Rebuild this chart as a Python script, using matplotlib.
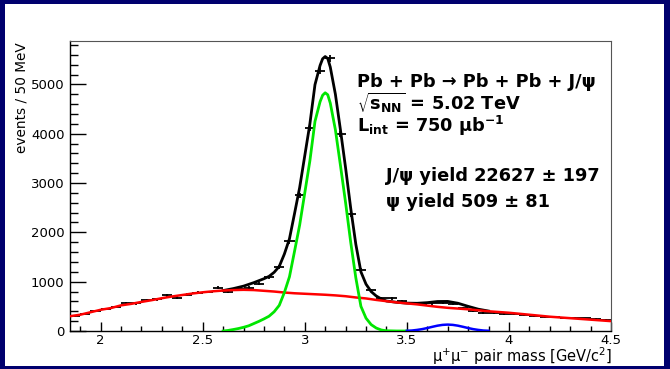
import numpy as np
import matplotlib
matplotlib.use("Agg")
import matplotlib.pyplot as plt
from matplotlib.patches import Rectangle
from matplotlib.ticker import MultipleLocator, FuncFormatter

plt.rcParams['font.family'] = ['DejaVu Sans']
plt.rcParams['mathtext.fontset'] = 'dejavusans'

# ---- data: histogram (bin centres, counts), 50 MeV bins ----
bin_centers = [1.875, 1.925, 1.975, 2.025, 2.075, 2.125, 2.175, 2.225, 2.275, 2.325,
               2.375, 2.425, 2.475, 2.525, 2.575, 2.625, 2.675, 2.725, 2.775, 2.825,
               2.875, 2.925, 2.975, 3.025, 3.075, 3.125, 3.175, 3.225, 3.275, 3.325,
               3.375, 3.425, 3.475, 3.525, 3.575, 3.625, 3.675, 3.725, 3.775, 3.825,
               3.875, 3.925, 3.975, 4.025, 4.075, 4.125, 4.175, 4.225, 4.275, 4.325,
               4.375, 4.425, 4.475]
counts = [310, 350, 410, 440, 490, 565, 560, 620, 640, 720,
          675, 740, 780, 790, 880, 800, 850, 880, 955, 1090,
          1300, 1815, 2750, 4120, 5280, 5530, 4000, 2370, 1235, 830,
          665, 660, 600, 570, 550, 560, 575, 545, 460, 400,
          370, 360, 345, 335, 320, 305, 290, 275, 270, 260,
          255, 240, 225]
bin_half_width = 0.025

# ---- background (red) ----
bkg_x = [1.85, 1.90, 1.95, 2.00, 2.05, 2.10, 2.15, 2.20, 2.25, 2.30, 2.35, 2.40,
         2.45, 2.50, 2.55, 2.60, 2.65, 2.70, 2.75, 2.80, 2.85, 2.90, 2.95, 3.00,
         3.05, 3.10, 3.15, 3.20, 3.25, 3.30, 3.35, 3.40, 3.45, 3.50, 3.55, 3.60,
         3.65, 3.70, 3.75, 3.80, 3.85, 3.90, 3.95, 4.00, 4.05, 4.10, 4.15, 4.20,
         4.25, 4.30, 4.35, 4.40, 4.45, 4.50]
bkg_y = [300, 330, 380, 430, 465, 520, 550, 590, 625, 665, 700, 730,
         760, 785, 805, 820, 830, 835, 830, 815, 800, 780, 765, 755,
         745, 735, 722, 705, 680, 660, 630, 605, 580, 560, 540, 515,
         490, 470, 455, 440, 420, 400, 385, 370, 350, 330, 310, 290,
         275, 260, 245, 230, 215, 200]

# ---- J/psi signal (green) ----
jpsi_x = [2.600, 2.625, 2.650, 2.675, 2.700, 2.725, 2.750, 2.775, 2.800, 2.825,
          2.850, 2.875, 2.900, 2.925, 2.950, 2.975, 3.000, 3.025, 3.050, 3.075,
          3.0875, 3.100, 3.1125, 3.125, 3.150, 3.175, 3.200, 3.225, 3.250, 3.275,
          3.300, 3.325, 3.350, 3.375, 3.400, 3.450, 3.500]
jpsi_y = [0, 12, 30, 50, 75, 105, 150, 195, 245, 300,
          390, 520, 780, 1100, 1620, 2150, 2800, 3450, 4250, 4650,
          4780, 4830, 4790, 4620, 4080, 3350, 2600, 1800, 1080, 500,
          260, 130, 60, 20, 5, 0, 0]

# ---- psi(2S) signal (blue) ----
psi2s_x = [3.500, 3.525, 3.550, 3.575, 3.600, 3.625, 3.650, 3.675, 3.700,
           3.725, 3.750, 3.775, 3.800, 3.825, 3.850, 3.875, 3.900]
psi2s_y = [5, 10, 22, 38, 60, 85, 108, 124, 130,
           124, 108, 85, 60, 38, 22, 10, 5]

# ---- total fit (black) ----
total_x = [2.600, 2.650, 2.700, 2.750, 2.800, 2.825, 2.850, 2.875, 2.900, 2.925,
           2.950, 2.975, 3.000, 3.025, 3.050, 3.075, 3.0875, 3.100, 3.1125, 3.125,
           3.150, 3.175, 3.200, 3.225, 3.250, 3.275, 3.300, 3.325, 3.350, 3.375,
           3.400, 3.450, 3.500, 3.550, 3.600, 3.650, 3.700, 3.750, 3.800, 3.850, 3.900]
total_y = [820, 860, 910, 980, 1060, 1108, 1190, 1310, 1560, 1870,
           2385, 2910, 3555, 4200, 4995, 5385, 5520, 5565, 5525, 5350,
           4800, 4070, 3305, 2490, 1760, 1200, 950, 800, 710, 650,
           608, 582, 565, 562, 575, 598, 600, 563, 500, 442, 405]

xticks_major = [2, 2.5, 3, 3.5, 4, 4.5]
yticks_major = [0, 1000, 2000, 3000, 4000, 5000]

# ---- figure ----
W, H = 670, 369
fig = plt.figure(figsize=(W / 100, H / 100), dpi=100)
fig.patch.set_facecolor('#00006e')
fig.patches.append(Rectangle((5 / W, 3 / H), (664 - 5) / W, (365 - 3) / H,
                             transform=fig.transFigure, facecolor='white',
                             edgecolor='none', zorder=-5))

L, R, T, B = 70, 611, 41, 331
ax = fig.add_axes([L / W, (H - B) / H, (R - L) / W, (B - T) / H])
ax.set_zorder(3)
ax.set_facecolor('white')

ax.errorbar(bin_centers, counts, xerr=bin_half_width, yerr=np.sqrt(counts),
            fmt='none', ecolor='black', elinewidth=1.3, capsize=0, zorder=2)
ax.plot(total_x, total_y, color='black', lw=2.0, zorder=3)
ax.plot(bkg_x, bkg_y, color='#ff0000', lw=1.8, zorder=4)
ax.plot(jpsi_x, jpsi_y, color='#00e600', lw=2.0, zorder=5)
ax.plot(psi2s_x, psi2s_y, color='#0000ff', lw=1.8, zorder=5)

ax.set_xlim(1.85, 4.5)
ax.set_ylim(0, 5880)

ax.set_xticks(xticks_major)
ax.set_yticks(yticks_major)
ax.xaxis.set_minor_locator(MultipleLocator(0.1))
ax.yaxis.set_minor_locator(MultipleLocator(200))
ax.xaxis.set_major_formatter(FuncFormatter(lambda v, p: '%g' % v))
ax.tick_params(axis='both', which='both', direction='in', top=False, right=False,
               labelsize=9.5, width=1.0, color='black')
ax.tick_params(axis='x', which='major', length=6.5, pad=2)
ax.tick_params(axis='x', which='minor', length=3.3)
ax.tick_params(axis='y', which='major', length=11.5, pad=4)
ax.tick_params(axis='y', which='minor', length=5.8)

for s in ['left', 'bottom']:
    ax.spines[s].set_linewidth(1.0)
    ax.spines[s].set_color('black')
for s in ['top', 'right']:
    ax.spines[s].set_linewidth(0.8)
    ax.spines[s].set_color('#555555')

# axis titles
fig.text(22 / W, 1 - 42 / H, 'events / 50 MeV', rotation=90, ha='center', va='top',
         fontsize=9.8)
fig.text(612 / W, 1 - 362 / H, 'μ$^{+}$μ$^{-}$ pair mass [GeV/c$^{2}$]',
         ha='right', va='baseline', fontsize=10.5)

# annotations
def px(xp, yp):
    return xp / W, 1 - yp / H

fs = 12.8
fig.text(*px(357, 87), 'Pb + Pb → Pb + Pb + J/ψ', fontsize=fs, fontweight='bold',
         ha='left', va='baseline', zorder=5)
fig.text(*px(357, 110), r'$\sqrt{\mathbf{s}_{\mathbf{NN}}}$ = 5.02 TeV', fontsize=fs,
         fontweight='bold', ha='left', va='baseline', zorder=5)
fig.text(*px(357, 132), r'$\mathbf{L}_{\mathbf{int}}$ = 750 μb$^{\mathbf{-1}}$',
         fontsize=fs, fontweight='bold', ha='left', va='baseline', zorder=5)
fig.text(*px(386, 181), 'J/ψ yield 22627 ± 197', fontsize=fs, fontweight='bold',
         ha='left', va='baseline', zorder=5)
fig.text(*px(386, 207), 'ψ yield 509 ± 81', fontsize=fs, fontweight='bold',
         ha='left', va='baseline', zorder=5)

fig.savefig('out.png', dpi=100, facecolor=fig.get_facecolor())
